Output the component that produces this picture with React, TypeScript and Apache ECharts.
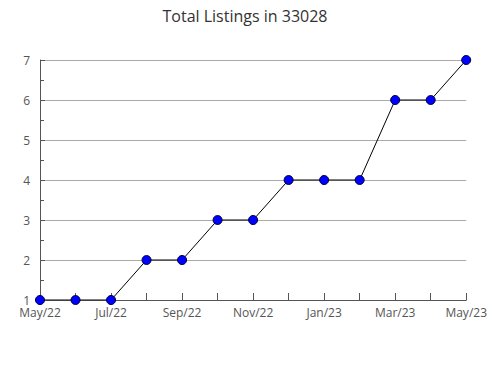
import React, { useEffect, useRef } from "react";
import * as echarts from "echarts";

const categories = ["May/22", "Jun/22", "Jul/22", "Aug/22", "Sep/22", "Oct/22", "Nov/22", "Dec/22", "Jan/23", "Feb/23", "Mar/23", "Apr/23", "May/23"];
const listings = [1, 1, 1, 2, 2, 3, 3, 4, 4, 4, 6, 6, 7];
const titleText = "Total Listings in 33028";

export default function App() {
  const ref = useRef<HTMLDivElement>(null);
  useEffect(() => {
    const chart = echarts.init(ref.current!, null, { renderer: "svg" });
    const font = "'Open Sans', sans-serif";
    chart.setOption({
      animation: false,
      backgroundColor: "#ffffff",
      title: {
        text: titleText,
        left: "center",
        top: 3,
        textStyle: { fontFamily: font, fontSize: 16, fontWeight: "normal", color: "#333" },
      },
      grid: { left: 40, right: 20, top: 60, bottom: 80 },
      xAxis: {
        type: "category",
        data: categories,
        boundaryGap: false,
        axisLine: { lineStyle: { color: "#555", width: 1 } },
        axisTick: { show: true, inside: true, length: 7, interval: 0, lineStyle: { color: "#555" } },
        axisLabel: {
          interval: 1,
          fontFamily: font,
          fontSize: 12,
          lineHeight: 12,
          color: "#555",
          margin: 6,
        },
        splitLine: { show: false },
      },
      yAxis: {
        type: "value",
        min: 1,
        max: 7,
        interval: 1,
        axisLine: { show: true, lineStyle: { color: "#555", width: 1 } },
        axisTick: { show: true, inside: true, length: 5, lineStyle: { color: "#555" } },
        minorTick: { show: true, splitNumber: 2, length: 4, lineStyle: { color: "#555" } },
        axisLabel: { fontFamily: font, fontSize: 12, lineHeight: 11, color: "#555", margin: 10 },
        splitLine: { show: true, lineStyle: { color: "#aaa", width: 1 } },
      },
      series: [
        {
          type: "line",
          data: listings,
          symbol: "circle",
          symbolSize: 9,
          lineStyle: { color: "#000", width: 1 },
          itemStyle: { color: "#0000ff", borderColor: "#000033", borderWidth: 1 },
        },
      ],
    });
    return () => chart.dispose();
  }, []);
  return <div ref={ref} style={{ position: "fixed", left: 0, top: 0, width: 490, height: 380 }} />;
}
